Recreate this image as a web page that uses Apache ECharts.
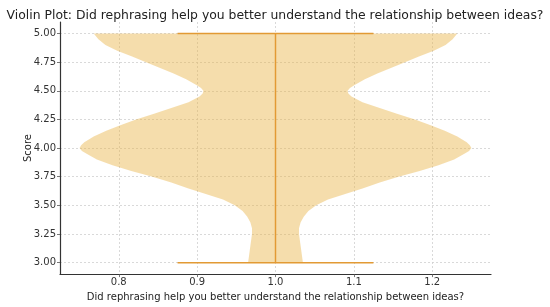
<!DOCTYPE html>
<html>
<head>
<meta charset="utf-8">
<script src="https://cdn.jsdelivr.net/npm/echarts@6/dist/echarts.min.js"></script>
<style>html,body{margin:0;padding:0;background:#fff;}#c{width:550px;height:307px;}</style>
</head>
<body>
<div id="c"></div>
<script>
// Violin outline: score levels and the half-width of the violin (in x units) at each level
const scores = [5.00, 4.95, 4.90, 4.85, 4.80, 4.75, 4.70, 4.65, 4.60, 4.55, 4.525, 4.50, 4.475, 4.45, 4.40, 4.35, 4.30, 4.25, 4.20, 4.15, 4.10, 4.05, 4.025, 4.00,
                3.975, 3.95, 3.90, 3.85, 3.80, 3.75, 3.70, 3.65, 3.60, 3.55, 3.50, 3.45, 3.40, 3.35, 3.30, 3.25, 3.20, 3.15, 3.10, 3.05, 3.00];
const halfWidths = [0.232, 0.226, 0.217, 0.202, 0.183, 0.166, 0.148, 0.130, 0.114, 0.101, 0.095, 0.092, 0.093, 0.097, 0.111, 0.133, 0.155, 0.178, 0.198, 0.216, 0.232, 0.244, 0.248, 0.250,
                    0.247, 0.241, 0.228, 0.208, 0.184, 0.157, 0.133, 0.112, 0.089, 0.067, 0.052, 0.042, 0.036, 0.032, 0.030, 0.030, 0.031, 0.032, 0.033, 0.034, 0.035];
const violinPosition = 1.0;
const minScore = 3.0;
const maxScore = 5.0;
const capHalf = 0.125;
const xTicks = [0.8, 0.9, 1.0, 1.1, 1.2];
const yTicks = [3.00, 3.25, 3.50, 3.75, 4.00, 4.25, 4.50, 4.75, 5.00];
const titleText = 'Violin Plot: Did rephrasing help you better understand the relationship between ideas?';
const xName = 'Did rephrasing help you better understand the relationship between ideas?';
const yName = 'Score';

const font = 'DejaVu Sans';
const lineColor = '#e29a34';
const chart = echarts.init(document.getElementById('c'), null, {renderer: 'canvas'});

const outline = scores.map((s, i) => [violinPosition - halfWidths[i], s])
  .concat(scores.slice().reverse().map((s, i) => [violinPosition + halfWidths[scores.length - 1 - i], s]));

const axisCommon = {
  axisLine: {show: true, lineStyle: {color: '#333', width: 1.2}},
  axisTick: {show: true, inside: false, length: 3, lineStyle: {color: '#555', width: 0.8}},
  splitLine: {show: true, lineStyle: {color: '#d0d0d0', width: 0.8, type: [2, 2]}},
};

chart.setOption({
  animation: false,
  title: {
    text: titleText, left: 'center', top: 5,
    textStyle: {fontFamily: font, fontSize: 12.4, fontWeight: 'normal', color: '#222'}
  },
  grid: {left: 60, right: 59, top: 22, bottom: 31, containLabel: false},
  xAxis: Object.assign({}, axisCommon, {
    type: 'value', min: 0.725, max: 1.275,
    name: xName, nameLocation: 'middle', nameGap: 13,
    nameTextStyle: {fontFamily: font, fontSize: 10, color: '#222'},
    axisTick: Object.assign({}, axisCommon.axisTick, {customValues: xTicks}),
    axisLabel: {customValues: xTicks, formatter: v => v.toFixed(1), fontFamily: font, fontSize: 10, color: '#333', margin: 3},
  }),
  yAxis: Object.assign({}, axisCommon, {
    type: 'value', min: 2.9, max: 5.1,
    name: yName, nameLocation: 'middle', nameGap: 27, nameMoveOverlap: false,
    nameTextStyle: {fontFamily: font, fontSize: 10, color: '#222'},
    axisTick: Object.assign({}, axisCommon.axisTick, {customValues: yTicks}),
    axisLabel: {customValues: yTicks, formatter: v => v.toFixed(2), fontFamily: font, fontSize: 10, color: '#333', margin: 4},
  }),
  series: [
    {
      type: 'custom',
      clip: true,
      data: [0],
      renderItem: function (params, api) {
        const pts = outline.map(p => api.coord(p));
        return {
          type: 'polygon',
          shape: {points: pts},
          style: {fill: 'rgba(232,180,70,0.45)', stroke: 'none'}
        };
      },
      z: 2
    },
    {
      type: 'line', symbol: 'none', z: 3,
      lineStyle: {color: lineColor, width: 1.5},
      connectNulls: false,
      data: [
        [violinPosition, minScore], [violinPosition, maxScore], '-',
        [violinPosition - capHalf, maxScore], [violinPosition + capHalf, maxScore], '-',
        [violinPosition - capHalf, minScore], [violinPosition + capHalf, minScore]
      ]
    }
  ]
});
</script>
</body>
</html>
